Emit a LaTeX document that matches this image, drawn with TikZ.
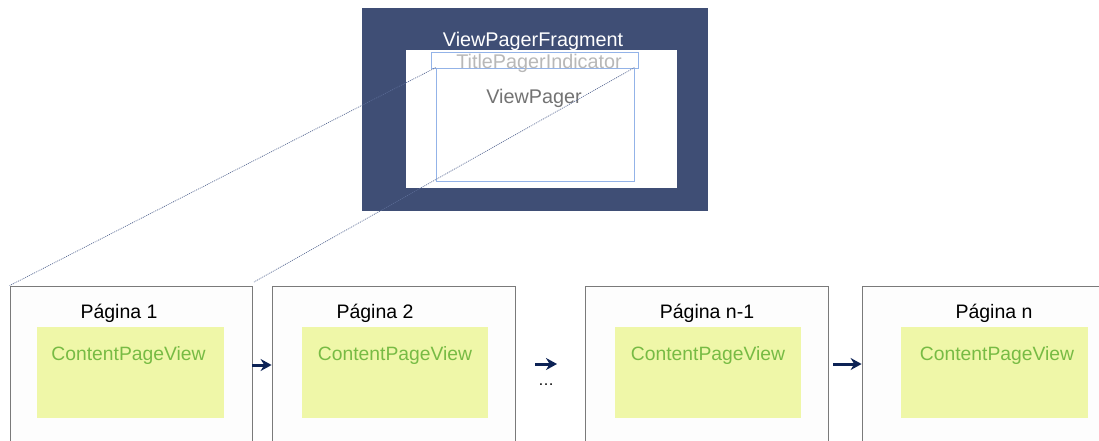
\documentclass[tikz,border=0pt]{standalone}
\usepackage{fontspec}
\setmainfont{Liberation Sans}
\usetikzlibrary{arrows.meta}
\definecolor{fragblue}{HTML}{3F4E75}
\definecolor{pagerline}{HTML}{93B3E8}
\definecolor{pagegray}{HTML}{7A7A7A}
\definecolor{pagefill}{HTML}{FDFDFD}
\definecolor{contentfill}{HTML}{EFF7A8}
\definecolor{contenttext}{HTML}{77BB44}
\definecolor{navy}{HTML}{0C2255}
\definecolor{linkline}{HTML}{5A6B95}
\tikzset{
  pagebox/.style={draw=pagegray, line width=0.8pt, fill=pagefill, minimum width=242, minimum height=164, inner sep=0},
  contentbox/.style={fill=contentfill, minimum width=187, minimum height=91, inner sep=0},
  contentlabel/.style={text=contenttext, font=\fontsize{19.3}{21}\selectfont},
  pagetitle/.style={font=\fontsize{19.5}{21}\selectfont},
  toplabel/.style={font=\fontsize{19.8}{21}\selectfont},
  nextarrow/.style={-{Stealth[length=11pt,width=12pt]}, line width=3pt, draw=navy},
  linkline/.style={draw=linkline, line width=0.7pt, dash pattern=on 1pt off 1pt},
}
\begin{document}
\begin{tikzpicture}[x=1pt,y=-1pt]
\useasboundingbox (0,0) rectangle (1099,440);
\clip (0,0) rectangle (1099,440);

% fragment container
\node[fill=fragblue, minimum width=346, minimum height=203, inner sep=0] (frag) at (535,109.5) {};
\node[toplabel, text=white] (fragtitle) at (533,41) {ViewPagerFragment};
\node[fill=white, minimum width=271, minimum height=138, inner sep=0] (inner) at (541.5,119) {};
\node[draw=pagerline, line width=0.7pt, fill=white, minimum width=198, minimum height=113, inner sep=0] (pager) at (535,124.5) {};
\node[draw=pagerline, line width=0.7pt, minimum width=207, minimum height=16, inner sep=0] (indicator) at (534.5,60) {};
\node[toplabel, text=black!28] (indtext) at (539,63) {TitlePagerIndicator};
\node[toplabel, text=black!55] (pagertext) at (534,98) {ViewPager};

% pages
\node[pagebox] (p1) at (131,368) {};
\node[pagebox, minimum width=243] (p2) at (393.5,368) {};
\node[pagebox, minimum width=243] (p3) at (706.5,368) {};
\node[pagebox] (p4) at (983,368) {};

\node[contentbox] (c1) at (130.5,372.5) {};
\node[contentbox, minimum width=186] (c2) at (395,372.5) {};
\node[contentbox, minimum width=186] (c3) at (707.5,372.5) {};
\node[contentbox] (c4) at (994.5,372.5) {};

\node[contentlabel] (l1) at (128.5,355) {ContentPageView};
\node[contentlabel] (l2) at (395,355) {ContentPageView};
\node[contentlabel] (l3) at (708,355) {ContentPageView};
\node[contentlabel] (l4) at (997,355) {ContentPageView};

\node[pagetitle] (t1) at (119,313) {Página 1};
\node[pagetitle] (t2) at (375,313) {Página 2};
\node[pagetitle] (t3) at (707,313) {Página n-1};
\node[pagetitle] (t4) at (994,313) {Página n};

% navigation arrows
\draw[nextarrow] (p1.east |- 0,365) -- (p2.west |- 0,365);
\coordinate (a2s) at (535,364);
\coordinate (a2e) at (557,364);
\draw[nextarrow] (a2s) -- (a2e);
\node[font=\fontsize{16}{18}\selectfont] (dots) at (546,385) {\dots};
\coordinate (a3s) at (833,364);
\draw[nextarrow] (a3s) -- (p4.west |- 0,364);

% projection of the pager onto the pages
\coordinate (end2) at (254,282);
\draw[linkline] (pager.north west) -- (p1.north west);
\draw[linkline] (pager.north east) -- (end2);
\end{tikzpicture}
\end{document}
